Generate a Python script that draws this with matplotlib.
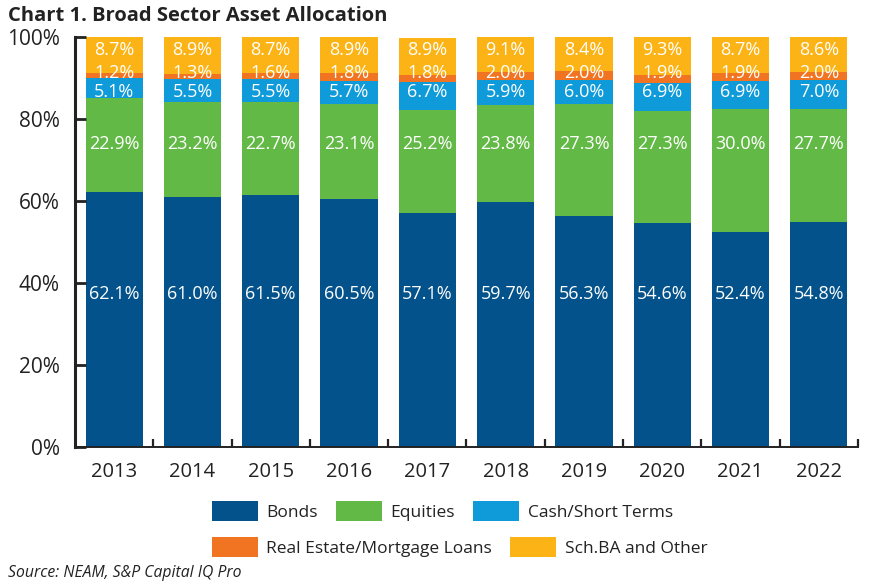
import matplotlib
matplotlib.use("Agg")
import matplotlib.pyplot as plt
import numpy as np
from matplotlib.patches import Patch

plt.rcParams["font.family"] = ["Open Sans", "DejaVu Sans"]

years = ["2013", "2014", "2015", "2016", "2017", "2018", "2019", "2020", "2021", "2022"]
bonds = [62.1, 61.0, 61.5, 60.5, 57.1, 59.7, 56.3, 54.6, 52.4, 54.8]
equities = [22.9, 23.2, 22.7, 23.1, 25.2, 23.8, 27.3, 27.3, 30.0, 27.7]
cash = [5.1, 5.5, 5.5, 5.7, 6.7, 5.9, 6.0, 6.9, 6.9, 7.0]
real_estate = [1.2, 1.3, 1.6, 1.8, 1.8, 2.0, 2.0, 1.9, 1.9, 2.0]
other = [8.7, 8.9, 8.7, 8.9, 8.9, 9.1, 8.4, 9.3, 8.7, 8.6]

series_names = ["Bonds", "Equities", "Cash/Short Terms",
                "Real Estate/Mortgage Loans", "Sch.BA and Other"]
colors = ["#03528b", "#62b946", "#0f9ad9", "#f07422", "#fbb316"]
# fixed label rows (in % of axis) as in the original chart
label_rows = [37.3, 73.9, 86.6, 91.3, 96.9]

fig = plt.figure(figsize=(8.74, 5.85), dpi=100)
ax = fig.add_axes([0.0858, 0.2359, 0.8959, 0.7009])

x = np.arange(len(years))
bottom = np.zeros(len(years))
data = [bonds, equities, cash, real_estate, other]
for vals, name, color, ly in zip(data, series_names, colors, label_rows):
    vals = np.array(vals)
    ax.bar(x, vals, width=0.73, bottom=bottom, color=color, label=name)
    for xi, v in zip(x, vals):
        ax.text(xi, ly, f"{v:.1f}%", ha="center", va="center",
                color="white", fontsize=13)
    bottom += vals

ax.set_xlim(-0.5, len(years) - 0.5)
ax.set_ylim(0, 100)
ax.set_yticks(np.arange(0, 101, 20))
ax.set_yticklabels([f"{v}%" for v in range(0, 101, 20)])
ax.set_xticks(x)
ax.set_xticklabels(years)
ax.set_xticks(np.arange(0.5, len(years), 1), minor=True)

for s in ["top", "right"]:
    ax.spines[s].set_visible(False)
ax.spines["left"].set_linewidth(2.2)
ax.spines["bottom"].set_linewidth(1.4)
ax.spines["left"].set_color("#222222")
ax.spines["bottom"].set_color("#222222")

ax.tick_params(axis="y", direction="in", length=8, width=2, color="#222222",
               labelsize=15, labelcolor="#222222", pad=11)
ax.tick_params(axis="x", which="major", length=0, labelsize=14.5,
               labelcolor="#222222", pad=11)
ax.tick_params(axis="x", which="minor", direction="in", length=6, width=1.6,
               color="#222222")

handles = [Patch(facecolor=c, label=n) for c, n in zip(colors, series_names)]
common = dict(frameon=False, fontsize=12.5, handlelength=2.65, handleheight=1.4,
              handletextpad=0.5, columnspacing=1.05, borderpad=0,
              borderaxespad=0, labelcolor="#222222")
leg1 = fig.legend(handles=handles[:3], ncol=3, loc="center left",
                  bbox_to_anchor=(0.242, 0.126), **common)
leg2 = fig.legend(handles=handles[3:], ncol=2, loc="center left",
                  bbox_to_anchor=(0.242, 0.065), **common)

fig.text(0.009, 0.972, "Chart 1. Broad Sector Asset Allocation", fontsize=14.5,
         fontweight="bold", color="#222222", va="center")
fig.text(0.009, 0.02, "Source: NEAM, S&P Capital IQ Pro", fontsize=11.3,
         style="italic", color="#222222", va="center")

fig.savefig("out.png", dpi=100)
